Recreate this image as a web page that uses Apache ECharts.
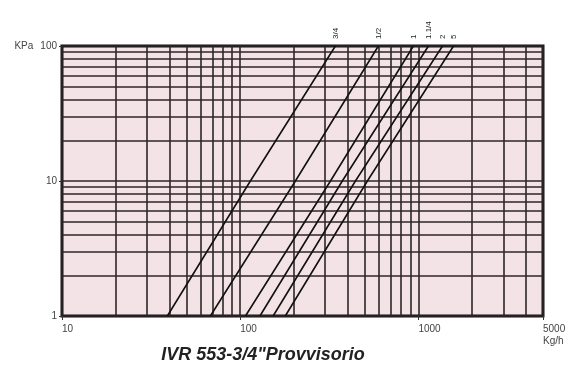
<!DOCTYPE html>
<html><head><meta charset="utf-8">
<script src="https://cdn.jsdelivr.net/npm/echarts@6/dist/echarts.min.js"></script>
<style>html,body{margin:0;padding:0;background:#fff}#c{width:580px;height:366px}</style>
</head><body><div id="c"></div>
<script>
const seriesNames = ['3/4', '1/2', '1', '1.1/4', '2', '5'];
const pressureLevels = [1, 10, 100];
const flowAt1 = [39, 68, 107, 129, 153, 179];
const flowAt10 = [114, 204, 321, 374, 443, 517];
const flowAt100 = [342, 596, 937, 1138, 1365, 1574];
const xGridValues = [20,30,40,50,60,70,80,90,200,300,400,500,600,700,800,900,2000,3000,4000];
const yGridValues = [2,3,4,5,6,7,8,9,20,30,40,50,60,70,80,90];
const xTickLabels = ['10','100','1000','5000'];
const yTickLabels = ['1','10','100'];
const xUnit = 'Kg/h';
const yUnit = 'KPa';
const titleText = 'IVR 553-3/4"Provvisorio';

const chart = echarts.init(document.getElementById('c'), null, {renderer:'canvas'});
const gridColor = '#2e2628';
const labelFont = {fontFamily:'Liberation Sans', fontSize:10, color:'#444'};

const series = seriesNames.map((name, i) => {
  const flows = [flowAt1[i], flowAt10[i], flowAt100[i]];
  const data = flows.map((f, j) => {
    const item = {value:[f, pressureLevels[j]]};
    if (j === flows.length - 1) {
      item.label = {show:true, formatter:name, rotate:90, position:'top', distance:7,
        align:'left', verticalAlign:'middle', fontFamily:'Liberation Sans', fontSize:8, color:'#222'};
    }
    return item;
  });
  return {type:'line', name, data, symbol:'circle', symbolSize:0, showSymbol:true, clip:false,
    itemStyle:{color:'#111'},
    lineStyle:{color:'#111', width:1.6}, z:5, silent:true};
});

series.push({
  type:'line', data:[], silent:true, z:2,
  markLine:{silent:true, symbol:'none', animation:false, label:{show:false},
    lineStyle:{color:gridColor, width:1.6, type:'solid'},
    data:[...xGridValues.map(v=>({xAxis:v})), ...yGridValues.map(v=>({yAxis:v}))]}
});

chart.setOption({
  animation:false,
  title:{text:titleText, left:258, top:341, textAlign:'center',
    textStyle:{fontFamily:'Liberation Sans', fontStyle:'italic', fontWeight:'bold', fontSize:18, color:'#222'}},
  grid:{left:62, right:37, top:46, bottom:50, show:true, backgroundColor:'#f3e3e7', borderColor:'#111', borderWidth:3},
  xAxis:{type:'log', logBase:10, min:10, max:5000,
    axisLine:{show:false}, axisTick:{show:true, length:4, lineStyle:{color:'#333'}},
    splitLine:{show:true, lineStyle:{color:gridColor, width:1.6}},
    axisLabel:Object.assign({}, labelFont, {margin:7, align:'left', lineHeight:12,
      showMaxLabel:true, showMinLabel:true,
      formatter:(v)=>{
        const s = String(Math.round(v));
        if (s === xTickLabels[3]) return s + '\n' + xUnit;
        return xTickLabels.includes(s) ? s : '';
      }})},
  yAxis:{type:'log', logBase:10, min:1, max:100,
    axisLine:{show:false}, axisTick:{show:true, length:3, lineStyle:{color:'#333'}},
    splitLine:{show:true, lineStyle:{color:gridColor, width:1.6}},
    axisLabel:Object.assign({}, labelFont, {margin:5,
      formatter:(v)=>{
        const s = String(Math.round(v));
        if (!yTickLabels.includes(s)) return '';
        return s === yTickLabels[2] ? '{u|' + yUnit + '}' + s : s;
      },
      rich:{u:{fontFamily:'Liberation Sans', fontSize:10, color:'#444', padding:[0,7,0,0]}}})},
  series
});
</script></body></html>
